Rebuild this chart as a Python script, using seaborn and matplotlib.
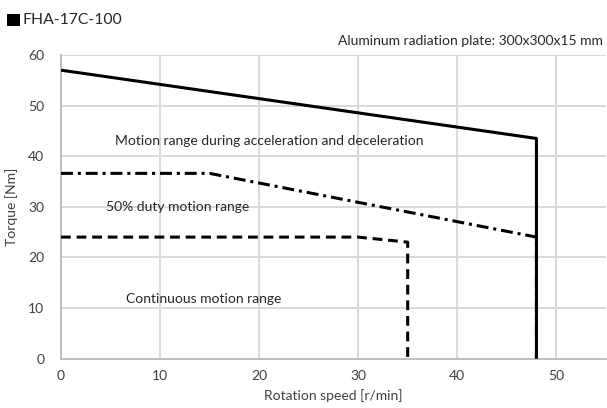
import matplotlib
matplotlib.use("Agg")
import matplotlib.pyplot as plt
from matplotlib.patches import Rectangle
import seaborn as sns
import pandas as pd

# Data
accel_speed = [0, 48, 48]
accel_torque = [57, 43.5, 0]
duty_speed = [0, 15, 48, 48]
duty_torque = [36.6, 36.6, 24, 0]
cont_speed = [0, 30, 35, 35]
cont_torque = [24, 24, 23, 0]

x_ticks = [0, 10, 20, 30, 40, 50]
y_ticks = [0, 10, 20, 30, 40, 50, 60]

sns.set_theme(style="white")
plt.rcParams['font.family'] = ['Lato', 'DejaVu Sans']

W, H = 607, 408
fig = plt.figure(figsize=(W / 100, H / 100), dpi=100)
ax = fig.add_axes([61/W, 1 - 358.5/H, 1 - 61/W - 0.002, (358.5 - 55)/H])

lw = 2.2
sns.lineplot(x=accel_speed, y=accel_torque, sort=False, estimator=None,
             color="black", linewidth=lw, ax=ax)
ax.lines[-1].set_linestyle("-")
sns.lineplot(x=duty_speed, y=duty_torque, sort=False, estimator=None,
             color="black", linewidth=lw, ax=ax)
ax.lines[-1].set_linestyle((0, (3.9, 1.6, 1.0, 1.6)))
sns.lineplot(x=cont_speed, y=cont_torque, sort=False, estimator=None,
             color="black", linewidth=lw, ax=ax)
ax.lines[-1].set_linestyle((0, (3.2, 1.9)))
for ln in ax.lines:
    ln.set_solid_capstyle("butt")
    ln.set_dash_capstyle("butt")
    ln.set_zorder(3)

ax.set_xlim(0, 55)
ax.set_ylim(0, 60)
ax.set_xticks(x_ticks)
ax.set_yticks(y_ticks)
ax.grid(True, color="#d9d9d9", linewidth=1.4)
ax.set_axisbelow(True)
for s in ["top", "right"]:
    ax.spines[s].set_visible(False)
for s in ["left", "bottom"]:
    ax.spines[s].set_color("#bfbfbf")
    ax.spines[s].set_linewidth(1.4)
ax.tick_params(axis="both", length=0, labelsize=10, colors="#404040", pad=8)
ax.tick_params(axis="y", pad=12)

ax.set_xlabel("Rotation speed [r/min]", fontsize=10, color="#404040", labelpad=5)
ax.set_ylabel("Torque [Nm]", fontsize=10, color="#404040", labelpad=7)

tkw = dict(fontsize=10, color="#262626", va="center", ha="left")
ax.text(5.5, 43.0, "Motion range during acceleration and deceleration", **tkw)
ax.text(4.5, 30.0, "50% duty motion range", **tkw)
ax.text(6.6, 11.7, "Continuous motion range", **tkw)

# Title: black square marker + model name
fig.patches.append(Rectangle((7/W, 1 - 26/H), 13/W, 12.5/H, transform=fig.transFigure,
                             facecolor="black", edgecolor="none"))
fig.text(23/W, 1 - 20/H, "FHA-17C-100", fontsize=11.3, color="#262626",
         va="center", ha="left")
fig.text(603/W, 1 - 41/H, "Aluminum radiation plate: 300x300x15 mm", fontsize=10,
         color="#262626", va="center", ha="right")

fig.savefig("out.png", dpi=100)
